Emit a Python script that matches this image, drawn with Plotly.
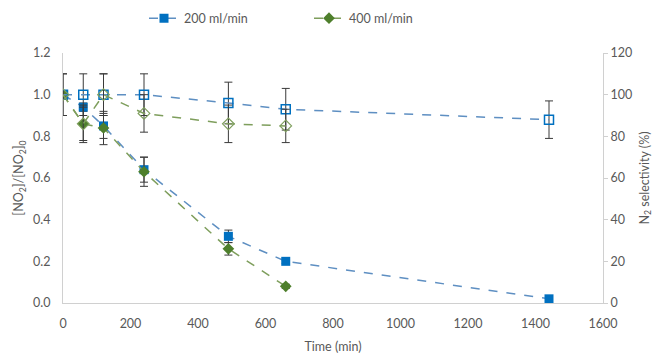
import plotly.graph_objects as go

# Sampling times (min)
time_200 = [0, 60, 120, 240, 490, 660, 1440]
time_400 = [0, 60, 120, 240, 490, 660]

# Normalised NO2 concentration [NO2]/[NO2]0
conv_200 = [1.00, 0.94, 0.85, 0.64, 0.32, 0.20, 0.02]
conv_200_err = [0.0, 0.02, 0.06, 0.06, 0.03, 0.01, 0.01]
conv_400 = [1.00, 0.86, 0.84, 0.63, 0.26, 0.08]
conv_400_err = [0.0, 0.08, 0.08, 0.07, 0.03, 0.01]

# N2 selectivity (%)
sel_200 = [100, 100, 100, 100, 96, 93, 88]
sel_200_err = [10, 10, 10, 10, 10, 10, 9]
sel_400 = [100, 86, 100, 91, 86, 85]
sel_400_err = [10, 9, 10, 9, 9, 8]

BLUE = "#0070C0"
BLUE_LINE = "#5E8FC2"
GREEN = "#4E7F2C"
GREEN_LINE = "#7E9E5C"
ERR = "#3a3a3a"
TXT = "#595959"
AXIS = "#D0D0D0"
FONT = "Lato"
FS = 12.5


def err(vals):
    return dict(type="data", array=vals, visible=True, color=ERR, thickness=1, width=4)


fig = go.Figure()

# selectivity (open markers, right axis)
fig.add_trace(go.Scatter(
    x=time_200, y=sel_200, yaxis="y2", mode="lines+markers", showlegend=False,
    line=dict(color=BLUE_LINE, width=1.5, dash="dash"),
    marker=dict(symbol="square-open", size=9, color=BLUE, line=dict(width=1.5, color=BLUE)),
    error_y=err(sel_200_err),
))
fig.add_trace(go.Scatter(
    x=time_400, y=sel_400, yaxis="y2", mode="lines+markers", showlegend=False,
    line=dict(color=GREEN_LINE, width=1.5, dash="dash"),
    marker=dict(symbol="diamond-open", size=9, color=GREEN_LINE, line=dict(width=1.2, color=GREEN_LINE)),
    error_y=err(sel_400_err),
))

# concentration (filled markers, left axis)
fig.add_trace(go.Scatter(
    x=time_200, y=conv_200, mode="lines+markers", name="200 ml/min",
    line=dict(color=BLUE_LINE, width=1.5, dash="dash"),
    marker=dict(symbol="square", size=9, color=BLUE),
    error_y=err(conv_200_err),
))
fig.add_trace(go.Scatter(
    x=time_400, y=conv_400, mode="lines+markers", name="400 ml/min",
    line=dict(color=GREEN_LINE, width=1.5, dash="dash"),
    marker=dict(symbol="diamond", size=9, color=GREEN),
    error_y=err(conv_400_err),
))

fig.update_layout(
    width=660, height=354,
    margin=dict(l=63, r=57, t=53, b=51),
    paper_bgcolor="white", plot_bgcolor="white",
    font=dict(family=FONT, size=FS, color=TXT),
    showlegend=True,
    legend=dict(orientation="h", x=0.15, xanchor="left", y=0.99, yanchor="top",
                yref="container", font=dict(family=FONT, size=FS, color=TXT),
                itemwidth=30, entrywidth=120, bgcolor="rgba(0,0,0,0)"),
    xaxis=dict(range=[0, 1600], dtick=200, showgrid=False, zeroline=False, automargin=False,
               showline=True, linecolor=AXIS, linewidth=1, ticks="outside", ticklen=9,
               tickcolor="rgba(0,0,0,0)",
               title=dict(text="Time (min)", standoff=14, font=dict(size=FS, color=TXT))),
    yaxis=dict(range=[0, 1.2], dtick=0.2, tickformat=".1f", showgrid=False, zeroline=False,
               automargin=False,
               showline=True, linecolor=AXIS, linewidth=1, ticks="outside", ticklen=9,
               tickcolor="rgba(0,0,0,0)",
               title=dict(text="[NO<sub>2</sub>]/[NO<sub>2</sub>]<sub>0</sub>", standoff=6,
                          font=dict(size=FS, color=TXT))),
    yaxis2=dict(range=[0, 120], dtick=20, overlaying="y", side="right", showgrid=False,
                zeroline=False, automargin=False, showline=True, linecolor=AXIS, linewidth=1,
                ticks="outside", ticklen=4, tickcolor=AXIS,
                title=dict(text="N<sub>2</sub> selectivity (%)", standoff=8,
                           font=dict(size=FS, color=TXT))),
)

fig.write_html("out.html")
